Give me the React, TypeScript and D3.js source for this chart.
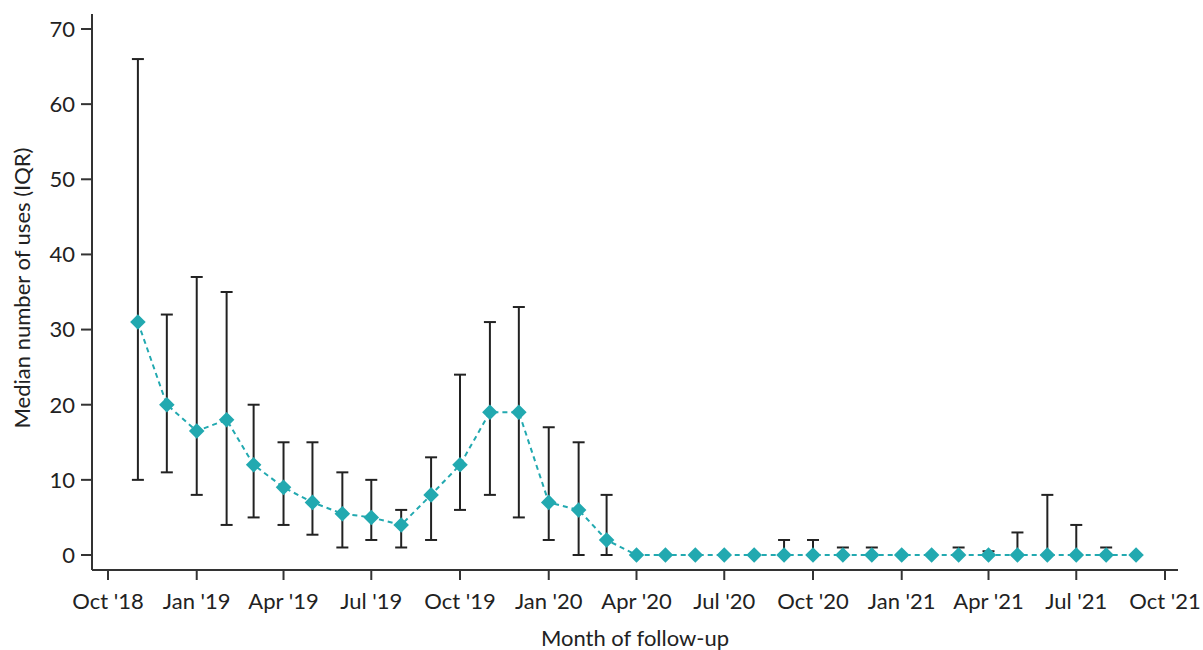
import React from "react";
import * as d3 from "d3";

// Monthly follow-up: median number of uses with interquartile range
const months: string[] = [
  "2018-11", "2018-12", "2019-01", "2019-02", "2019-03", "2019-04", "2019-05",
  "2019-06", "2019-07", "2019-08", "2019-09", "2019-10", "2019-11", "2019-12",
  "2020-01", "2020-02", "2020-03", "2020-04", "2020-05", "2020-06", "2020-07",
  "2020-08", "2020-09", "2020-10", "2020-11", "2020-12", "2021-01", "2021-02",
  "2021-03", "2021-04", "2021-05", "2021-06", "2021-07", "2021-08", "2021-09",
];
const medians: number[] = [
  31, 20, 16.5, 18, 12, 9, 7, 5.5, 5, 4, 8, 12, 19, 19, 7, 6, 2,
  0, 0, 0, 0, 0, 0, 0, 0, 0, 0, 0, 0, 0, 0, 0, 0, 0, 0,
];
const lowerQ: number[] = [
  10, 11, 8, 4, 5, 4, 2.7, 1, 2, 1, 2, 6, 8, 5, 2, 0, 0,
  0, 0, 0, 0, 0, 0, 0, 0, 0, 0, 0, 0, 0, 0, 0, 0, 0, 0,
];
const upperQ: number[] = [
  66, 32, 37, 35, 20, 15, 15, 11, 10, 6, 13, 24, 31, 33, 17, 15, 8,
  0, 0, 0, 0, 0, 2, 2, 1, 1, 0, 0, 1, 0.5, 3, 8, 4, 1, 0,
];
const yTicks: number[] = [0, 10, 20, 30, 40, 50, 60, 70];
const xTickDates: string[] = [
  "2018-10", "2019-01", "2019-04", "2019-07", "2019-10", "2020-01", "2020-04",
  "2020-07", "2020-10", "2021-01", "2021-04", "2021-07", "2021-10",
];

const parseMonth = d3.timeParse("%Y-%m");
const fmt = d3.timeFormat("%b '%y");

const W = 1203;
const H = 650;
const FONT = "Lato, 'Open Sans', sans-serif";
const TEAL = "#22a9b0";
const INK = "#222222";
const AXIS = "#333333";
const FS = 22;

export default function App() {
  const x = d3
    .scaleTime()
    .domain([parseMonth("2018-10")!, parseMonth("2021-10")!])
    .range([108, 1165]);
  const y = d3.scaleLinear().domain([0, 70]).range([555, 29]);

  const axisX = 92;
  const axisY = 570;

  const data = months.map((m, i) => ({
    date: parseMonth(m)!,
    med: medians[i],
    lo: lowerQ[i],
    hi: upperQ[i],
  }));

  const line = d3
    .line<(typeof data)[number]>()
    .x((d) => x(d.date))
    .y((d) => y(d.med));

  return (
    <svg
      width={W}
      height={H}
      style={{ position: "absolute", left: 0, top: 0, background: "#fff" }}
      fontFamily={FONT}
    >
      {/* axes */}
      <line x1={axisX} x2={axisX} y1={14} y2={axisY} stroke={AXIS} strokeWidth={2} />
      <line x1={axisX} x2={1178} y1={axisY} y2={axisY} stroke={AXIS} strokeWidth={2} />

      {yTicks.map((t) => (
        <g key={t} transform={`translate(0,${y(t)})`}>
          <line x1={81} x2={axisX} stroke={AXIS} strokeWidth={2} />
          <text x={75} dy="0.36em" textAnchor="end" fontSize={FS} fill="#222">
            {t}
          </text>
        </g>
      ))}

      {xTickDates.map((s) => {
        const d = parseMonth(s)!;
        return (
          <g key={s} transform={`translate(${x(d)},0)`}>
            <line y1={axisY} y2={axisY + 10} stroke={AXIS} strokeWidth={2} />
            <text y={609} textAnchor="middle" fontSize={FS} fill="#222">
              {fmt(d)}
            </text>
          </g>
        );
      })}

      <text x={635} y={646} textAnchor="middle" fontSize={FS} fill="#222">
        Month of follow-up
      </text>
      <text
        transform={`translate(30,${(14 + axisY) / 2 - 4}) rotate(-90)`}
        textAnchor="middle"
        fontSize={FS}
        fill="#222"
      >
        Median number of uses (IQR)
      </text>

      {/* IQR error bars */}
      {data.map((d, i) =>
        d.hi > d.lo ? (
          <g key={`e${i}`} stroke={INK} strokeWidth={2}>
            <line x1={x(d.date)} x2={x(d.date)} y1={y(d.lo)} y2={y(d.hi)} />
            <line x1={x(d.date) - 6} x2={x(d.date) + 6} y1={y(d.hi)} y2={y(d.hi)} />
            <line x1={x(d.date) - 6} x2={x(d.date) + 6} y1={y(d.lo)} y2={y(d.lo)} />
          </g>
        ) : null
      )}

      {/* median trend */}
      <path
        d={line(data) ?? ""}
        fill="none"
        stroke={TEAL}
        strokeWidth={2}
        strokeDasharray="5,4"
      />
      {data.map((d, i) => (
        <rect
          key={`m${i}`}
          x={-5.5}
          y={-5.5}
          width={11}
          height={11}
          fill={TEAL}
          transform={`translate(${x(d.date)},${y(d.med)}) rotate(45)`}
        />
      ))}
    </svg>
  );
}
